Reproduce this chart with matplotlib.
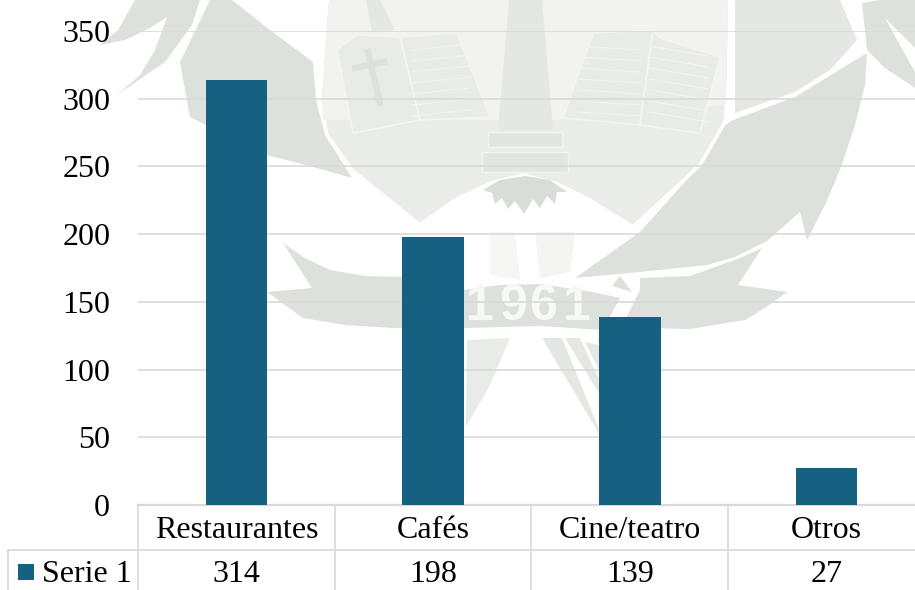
import matplotlib
matplotlib.use("Agg")
import matplotlib.pyplot as plt
from matplotlib.patches import Polygon, Rectangle

plt.rcParams['font.family'] = ['Liberation Serif', 'DejaVu Serif']

# Datos
categorias = ['Restaurantes', 'Cafés', 'Cine/teatro', 'Otros']
serie_1 = [314, 198, 139, 27]
nombre_serie = 'Serie 1'
ticks_y = [0, 50, 100, 150, 200, 250, 300, 350]

AZUL = '#166082'
GRIS = '#d9d9d9'
W, H = 915, 590
TAM = 23

fig = plt.figure(figsize=(W / 100, H / 100), dpi=100)

# Escudo de fondo, en coordenadas de pixel
fondo = fig.add_axes([0, 0, 1, 1], zorder=0)
fondo.set_xlim(0, W)
fondo.set_ylim(H, 0)
fondo.axis('off')

OSCURO = '#dde1db'
MEDIO = '#e4e7e3'
CLARO = '#f2f3f1'
ZONA = '#eaecE9'
LINEA = '#f4f5f3'

def forma(puntos, color, borde='none', lw=0):
    fondo.add_patch(Polygon(puntos, closed=True, facecolor=color,
                            edgecolor=borde, linewidth=lw, joinstyle='round'))

# Alas y cintas
forma([(100, 45), (118, 30), (135, 0), (200, 0), (192, 25), (165, 62), (117, 95),
       (140, 75), (155, 50), (167, 17), (150, 28), (125, 40)], OSCURO)
forma([(180, 62), (210, 0), (232, 0), (270, 30), (313, 62), (316, 100), (325, 135),
       (352, 178), (310, 166), (266, 155), (225, 135), (190, 117), (185, 90)], OSCURO)
forma([(862, 3), (880, 0), (915, 0), (915, 48), (885, 18), (915, 72), (915, 88),
       (885, 68), (867, 50)], OSCURO)
forma([(735, 0), (840, 0), (857, 40), (830, 70), (795, 92), (735, 113)], MEDIO)
forma([(733, 120), (795, 97), (867, 53), (865, 85), (855, 125), (840, 170), (825, 205),
       (807, 240), (800, 212), (767, 241), (735, 257), (707, 265), (640, 272), (575, 278),
       (640, 232), (700, 165), (725, 125)], OSCURO)
forma([(283, 243), (305, 258), (330, 270), (365, 276), (403, 277), (463, 290), (500, 285),
       (540, 284), (593, 292), (620, 298), (603, 330), (540, 326), (467, 328), (393, 328),
       (345, 325), (303, 318), (285, 305), (267, 292), (312, 288)], OSCURO)
forma([(640, 278), (690, 276), (740, 258), (762, 248), (738, 285), (787, 292), (765, 308),
       (745, 320), (690, 329), (640, 328), (620, 330), (640, 290)], OSCURO)
forma([(612, 286), (620, 276), (632, 292)], OSCURO)

# Cuerpo del escudo
forma([(327, 0), (730, 0), (728, 90), (725, 122), (700, 165), (633, 227), (590, 200),
       (555, 183), (523, 175), (490, 183), (455, 200), (420, 225), (352, 170),
       (327, 135), (320, 100)], ZONA, borde='white', lw=2.5)
forma([(329, 0), (728, 0), (726, 105), (560, 120), (490, 120), (323, 120), (322, 100)], CLARO)
forma([(490, 232), (515, 232), (520, 280), (490, 275)], '#f6f7f5')
forma([(535, 232), (575, 232), (570, 272), (540, 278)], '#f4f5f3')

# Torre central y base
forma([(509, 0), (542, 0), (553, 130), (498, 130)], '#e5e7e4')
forma([(366, 0), (380, 0), (395, 30), (372, 32)], '#e5e7e4')
fondo.add_patch(Rectangle((488, 132), 74, 15, facecolor='#e3e5e2', edgecolor=LINEA, lw=1))
fondo.add_patch(Rectangle((482, 152), 86, 20, facecolor='#e3e5e2', edgecolor=LINEA, lw=1))
forma([(483, 190), (500, 180), (525, 176), (550, 180), (567, 192), (557, 192), (555, 204),
       (547, 196), (540, 208), (533, 199), (524, 214), (515, 201), (508, 209), (502, 198),
       (495, 204), (492, 193)], '#d9ddd7')

# Libros abiertos
paginas = [
    [(337, 50), (357, 35), (400, 37), (420, 120), (353, 133)],
    [(400, 37), (457, 33), (490, 117), (420, 120)],
    [(563, 118), (593, 33), (653, 30), (640, 125)],
    [(653, 30), (660, 38), (720, 57), (700, 133), (640, 125)],
]
for pagina in paginas:
    forma(pagina, '#e9ebe8', borde=LINEA, lw=1.2)
for y0 in range(48, 118, 11):
    fondo.plot([412, 470], [y0 + 2, y0 - 4], color=LINEA, lw=0.8)
    fondo.plot([577, 640], [y0 - 2, y0 + 2], color=LINEA, lw=0.8)
    fondo.plot([650, 708], [y0 - 2, y0 + 8], color=LINEA, lw=0.8)
fondo.plot([368, 380], [52, 103], color='#dde0dc', lw=4.5)
fondo.plot([355, 384], [68, 62], color='#dde0dc', lw=4.5)

# Patas inferiores
forma([(467, 340), (510, 338), (490, 385), (466, 427)], '#e8ebe6')
forma([(542, 338), (562, 338), (600, 432), (598, 432)], '#e4e7e2')
forma([(565, 338), (580, 338), (600, 382), (600, 395)], '#e4e7e2')
forma([(585, 342), (600, 345), (600, 372)], '#e4e7e2')

for x0, cifra in zip([480, 513, 543, 577], '1961'):
    fondo.text(x0, 307, cifra, color='#f8f9f7', fontsize=36, family='Liberation Sans',
               fontweight='bold', ha='center', va='center')

# Barras
ax = fig.add_axes([138 / W, (H - 505) / H, (W - 138) / W, 474 / H], zorder=1)
ax.patch.set_visible(False)
posiciones = list(range(len(categorias)))
ax.bar(posiciones, serie_1, width=0.313, color=AZUL, zorder=3)
ax.set_xlim(-0.5, -0.5 + (W - 138) / 196.7)
ax.set_ylim(0, 350)
ax.set_yticks(ticks_y)
ax.set_xticks([])
ax.tick_params(axis='y', length=0, pad=20, labelsize=TAM)
ax.grid(axis='y', color=GRIS, linewidth=1.2, zorder=1)
ax.set_axisbelow(True)
for lado in ax.spines.values():
    lado.set_visible(False)

# Tabla de datos bajo el eje
tr = ax.get_xaxis_transform()

def fila(ypx):
    return (505 - ypx) / 474

for i, (cat, val) in enumerate(zip(categorias, serie_1)):
    ax.text(i, fila(531), cat, transform=tr, ha='center', va='center', fontsize=TAM)
    ax.text(i, fila(574), str(val), transform=tr, ha='center', va='center', fontsize=TAM)

for xv in [-0.5, 0.5, 1.5, 2.5]:
    ax.plot([xv, xv], [fila(505), fila(590)], transform=tr, color=GRIS, lw=1.2, clip_on=False)
ax.plot([-0.5, 3.45], [fila(505), fila(505)], transform=tr, color=GRIS, lw=1.6, clip_on=False)
ax.plot([-0.5, 3.45], [fila(550), fila(550)], transform=tr, color=GRIS, lw=1.2, clip_on=False)

# Celda de la leyenda
fondo_sup = fig.add_axes([0, 0, 1, 1], zorder=2)
fondo_sup.set_xlim(0, W)
fondo_sup.set_ylim(H, 0)
fondo_sup.axis('off')
fondo_sup.plot([8, 138], [550, 550], color=GRIS, lw=1.2)
fondo_sup.plot([8, 8], [550, 590], color=GRIS, lw=1.2)
fondo_sup.add_patch(Rectangle((18, 564), 16, 16, facecolor=AZUL, edgecolor='none'))
fondo_sup.text(42, 574, nombre_serie, ha='left', va='center', fontsize=TAM)

fig.savefig('out.png', dpi=100)
